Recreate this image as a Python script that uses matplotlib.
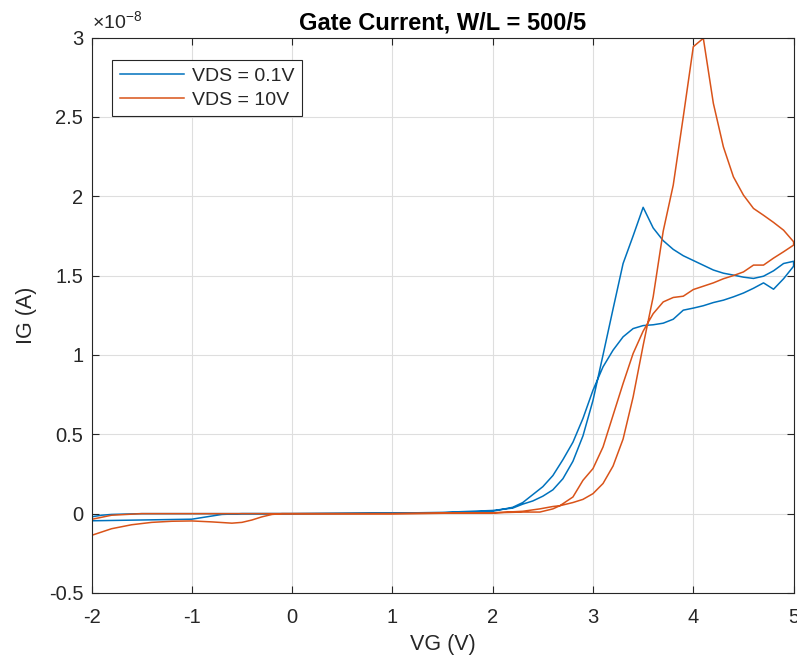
import matplotlib
matplotlib.use("Agg")
import matplotlib.pyplot as plt
import numpy as np

plt.rcParams['font.family'] = ['Liberation Sans', 'DejaVu Sans']
plt.rcParams['mathtext.fontset'] = 'custom'
plt.rcParams['mathtext.rm'] = 'Liberation Sans'

# ---- data (IG in units of 1e-8 A) ----
title = "Gate Current, W/L = 500/5"
xlabel = "VG (V)"
ylabel = "IG (A)"
legend_labels = ["VDS = 0.1V", "VDS = 10V"]

# VDS = 0.1 V, branch with the peak
blue_a_vg = [-2.0, -1.9, -1.8, -1.5, -1.0, 0.0, 1.0, 1.5, 2.0, 2.2, 2.3, 2.4, 2.5, 2.6, 2.7, 2.8, 2.9,
             3.0, 3.1, 3.2, 3.3, 3.4, 3.5, 3.6, 3.7, 3.8, 3.9, 4.0, 4.1, 4.2, 4.3, 4.4, 4.5, 4.6,
             4.7, 4.8, 4.9, 5.0]
blue_a_ig = [-0.02, -0.01, -0.005, 0.0, 0.0, 0.0, 0.003, 0.008, 0.02, 0.035, 0.06, 0.08, 0.11, 0.15,
             0.22, 0.33, 0.49, 0.714, 1.0, 1.29, 1.576, 1.75, 1.93, 1.80, 1.72, 1.665, 1.625, 1.595,
             1.565, 1.535, 1.515, 1.503, 1.49, 1.482, 1.496, 1.53, 1.576, 1.59]

# VDS = 0.1 V, plateau branch
blue_b_vg = [-2.0, -1.5, -1.0, -0.8, -0.7, -0.5, 0.0, 1.0, 1.5, 2.0, 2.2, 2.3, 2.4, 2.5, 2.6, 2.7, 2.8,
             2.9, 3.0, 3.1, 3.2, 3.3, 3.4, 3.5, 3.6, 3.7, 3.8, 3.9, 4.0, 4.1, 4.2, 4.3, 4.4, 4.5,
             4.6, 4.7, 4.8, 4.9, 5.0]
blue_b_ig = [-0.045, -0.04, -0.035, -0.015, -0.005, 0.0, 0.0, 0.003, 0.005, 0.015, 0.04, 0.07, 0.12,
             0.17, 0.24, 0.34, 0.45, 0.6, 0.778, 0.925, 1.03, 1.114, 1.166, 1.185, 1.19, 1.20, 1.225,
             1.282, 1.295, 1.31, 1.33, 1.345, 1.366, 1.39, 1.42, 1.454, 1.414, 1.48, 1.559]

# VDS = 10 V, branch with the peak
orange_a_vg = [-2.0, -1.8, -1.5, 0.0, 1.0, 2.0, 2.3, 2.47, 2.6, 2.67, 2.8, 2.9, 3.0, 3.1, 3.2, 3.3,
               3.4, 3.5, 3.6, 3.7, 3.8, 3.9, 4.0, 4.1, 4.2, 4.3, 4.4, 4.5, 4.6, 4.7, 4.8, 4.9, 5.0]
orange_a_ig = [-0.036, -0.01, 0.0, 0.0, 0.0, 0.005, 0.015, 0.03, 0.045, 0.05, 0.07, 0.09, 0.126, 0.19,
               0.30, 0.47, 0.735, 1.06, 1.366, 1.78, 2.07, 2.5, 2.942, 2.995, 2.585, 2.311, 2.122,
               2.007, 1.923, 1.88, 1.835, 1.786, 1.713]

# VDS = 10 V, plateau branch
orange_b_vg = [-2.0, -1.8, -1.6, -1.4, -1.2, -1.0, -0.8, -0.6, -0.5, -0.4, -0.3, -0.2, -0.1, 0.0, 1.0,
               2.0, 2.3, 2.47, 2.6, 2.67, 2.8, 2.9, 3.0, 3.1, 3.2, 3.3, 3.4, 3.5, 3.6, 3.7, 3.8, 3.9,
               4.0, 4.1, 4.2, 4.3, 4.4, 4.5, 4.6, 4.7, 4.8, 4.9, 5.0]
orange_b_ig = [-0.137, -0.095, -0.07, -0.055, -0.048, -0.046, -0.052, -0.06, -0.055, -0.04, -0.02,
               -0.005, 0.0, 0.0, 0.0, 0.005, 0.01, 0.01, 0.03, 0.05, 0.105, 0.21, 0.284, 0.42, 0.62,
               0.82, 1.009, 1.15, 1.26, 1.334, 1.362, 1.37, 1.412, 1.433, 1.454, 1.48, 1.50, 1.523,
               1.566, 1.566, 1.61, 1.65, 1.692]

xticks = [-2, -1, 0, 1, 2, 3, 4, 5]
yticks = [-0.5, 0, 0.5, 1, 1.5, 2, 2.5, 3]
ytick_labels = ["-0.5", "0", "0.5", "1", "1.5", "2", "2.5", "3"]
xtick_labels = ["-2", "-1", "0", "1", "2", "3", "4", "5"]

# ---- plot ----
W, H = 797, 660
fig = plt.figure(figsize=(W / 100, H / 100), dpi=100)
ax = fig.add_axes([91.5 / W, 1 - 593 / H, (793.6 - 91.5) / W, (593 - 37.5) / H])

blue = '#0072BD'
orange = '#D95319'
axc = '#262626'

# each curve is a hysteresis loop: forward branch then reverse branch
bx = list(blue_a_vg) + list(blue_b_vg[::-1])
by = list(blue_a_ig) + list(blue_b_ig[::-1])
ox = list(orange_a_vg) + list(orange_b_vg[::-1])
oy = list(orange_a_ig) + list(orange_b_ig[::-1])

ax.plot(bx, by, color=blue, lw=1.1, label=legend_labels[0])
ax.plot(ox, oy, color=orange, lw=1.1, label=legend_labels[1])

ax.set_xlim(-2, 5)
ax.set_ylim(-0.5, 3)
ax.set_xticks(xticks)
ax.set_xticklabels(xtick_labels)
ax.set_yticks(yticks)
ax.set_yticklabels(ytick_labels)

ax.grid(True, color='#dedede', lw=0.8)
ax.set_axisbelow(True)
for s in ax.spines.values():
    s.set_color(axc)
    s.set_linewidth(0.8)
ax.tick_params(direction='in', length=5, width=0.8, color=axc, labelcolor=axc,
               labelsize=14.5, top=True, right=True)
ax.tick_params(axis='x', pad=11)
ax.tick_params(axis='y', pad=6)

ax.set_xlabel(xlabel, fontsize=15.5, color=axc)
ax.xaxis.set_label_coords(0.5, -0.073)
ax.set_ylabel(ylabel, fontsize=15.5, color=axc)
ax.yaxis.set_label_coords(-0.078, 0.5)
ax.set_title(title, fontsize=17, fontweight='bold', color='black', pad=6)

ax.text(0.0, 1.01, r'$\times\mathregular{10^{-8}}$', transform=ax.transAxes,
        fontsize=14, color=axc, ha='left', va='bottom')

leg = ax.legend(loc='upper left', bbox_to_anchor=(0.029, 0.96), fontsize=14,
                frameon=True, fancybox=False, edgecolor=axc, framealpha=1,
                handlelength=3.3, borderpad=0.4, labelspacing=0.3, handletextpad=0.4,
                borderaxespad=0)
leg.get_frame().set_linewidth(0.8)
for t in leg.get_texts():
    t.set_color(axc)

fig.savefig('out.png', dpi=100)
